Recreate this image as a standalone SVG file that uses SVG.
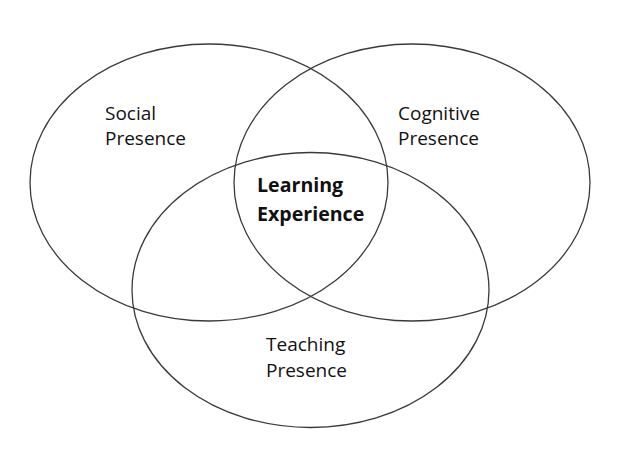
<svg xmlns="http://www.w3.org/2000/svg" width="624" height="468" viewBox="0 0 624 468">
<style>
.c{fill:none;stroke:#3a3a3a;stroke-width:1.3}
.t{font-family:"Open Sans","Liberation Sans",sans-serif;font-size:19px;fill:#111}
.b{font-weight:bold;font-size:19.6px}
</style>
<rect width="624" height="468" fill="#fff"/>
<g id="social">
<ellipse class="c" cx="209" cy="182.5" rx="179" ry="138.5"/>
<text class="t" x="105" y="120">Social</text>
<text class="t" x="105" y="145">Presence</text>
</g>
<g id="cognitive">
<ellipse class="c" cx="412" cy="182.5" rx="178" ry="138.5"/>
<text class="t" x="398" y="120">Cognitive</text>
<text class="t" x="398" y="145">Presence</text>
</g>
<g id="teaching">
<ellipse class="c" cx="310.5" cy="290" rx="178.5" ry="137.5"/>
<text class="t" x="266" y="351">Teaching</text>
<text class="t" x="266" y="377">Presence</text>
</g>
<g id="learning">
<text class="t b" x="257" y="192">Learning</text>
<text class="t b" x="257" y="221">Experience</text>
</g>
<g id="connectors"/>
</svg>
